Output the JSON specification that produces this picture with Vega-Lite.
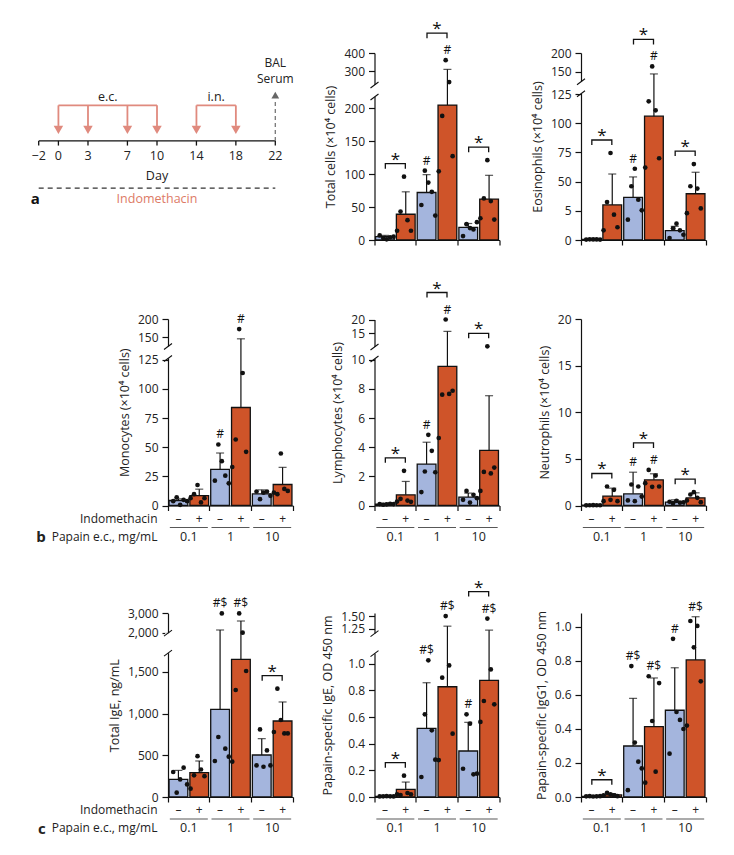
{
"$schema":"https://vega.github.io/schema/vega-lite/v6.json",
"background":"white",
"padding":{"top":20,"left":30,"right":5,"bottom":5},
"config":{
 "font":"Open Sans",
 "view":{"stroke":null},
 "axis":{"labelFont":"Open Sans","titleFont":"Open Sans","labelFontSize":12,"titleFontSize":12.5,"titleFontWeight":"normal","labelColor":"#222","titleColor":"#222","domainColor":"#111","tickColor":"#111","domainWidth":1.2,"tickWidth":1.2,"tickSize":6,"labelPadding":4,"titlePadding":6,"grid":false,"labelOverlap":false},
 "text":{"font":"Open Sans","color":"#222"}
},
"datasets":{
 "days":[{"day":-2},{"day":0},{"day":3},{"day":7},{"day":10},{"day":14},{"day":18},{"day":22}],
 "events":[{"day":0,"route":"e.c."},{"day":3,"route":"e.c."},{"day":7,"route":"e.c."},{"day":10,"route":"e.c."},{"day":14,"route":"i.n."},{"day":18,"route":"i.n."}],
 "bars":[
  {"id":"tc_0.1m","p":"tc","dose":"0.1","trt":"–","mean":5,"sd":2,"mark":"","star":true},
  {"id":"tc_0.1p","p":"tc","dose":"0.1","trt":"+","mean":39,"sd":34,"mark":"","star":true},
  {"id":"tc_1m","p":"tc","dose":"1","trt":"–","mean":72,"sd":27,"mark":"#","star":true},
  {"id":"tc_1p","p":"tc","dose":"1","trt":"+","mean":208,"sd":101,"mark":"#","star":true},
  {"id":"tc_10m","p":"tc","dose":"10","trt":"–","mean":19,"sd":6,"mark":"","star":true},
  {"id":"tc_10p","p":"tc","dose":"10","trt":"+","mean":62,"sd":36,"mark":"","star":true},
  {"id":"eos_0.1m","p":"eos","dose":"0.1","trt":"–","mean":0.5,"sd":0.3,"mark":"","star":true},
  {"id":"eos_0.1p","p":"eos","dose":"0.1","trt":"+","mean":30,"sd":26.5,"mark":"","star":true},
  {"id":"eos_1m","p":"eos","dose":"1","trt":"–","mean":36.5,"sd":17.5,"mark":"#","star":true},
  {"id":"eos_1p","p":"eos","dose":"1","trt":"+","mean":106,"sd":41.5,"mark":"#","star":true},
  {"id":"eos_10m","p":"eos","dose":"10","trt":"–","mean":8,"sd":3.7,"mark":"","star":true},
  {"id":"eos_10p","p":"eos","dose":"10","trt":"+","mean":39.6,"sd":18.4,"mark":"","star":true},
  {"id":"mono_0.1m","p":"mono","dose":"0.1","trt":"–","mean":4.3,"sd":1.4,"mark":"","star":false},
  {"id":"mono_0.1p","p":"mono","dose":"0.1","trt":"+","mean":8.5,"sd":5.5,"mark":"","star":false},
  {"id":"mono_1m","p":"mono","dose":"1","trt":"–","mean":31,"sd":14,"mark":"#","star":false},
  {"id":"mono_1p","p":"mono","dose":"1","trt":"+","mean":84,"sd":64,"mark":"#","star":false},
  {"id":"mono_10m","p":"mono","dose":"10","trt":"–","mean":10,"sd":3.4,"mark":"","star":false},
  {"id":"mono_10p","p":"mono","dose":"10","trt":"+","mean":18,"sd":14.7,"mark":"","star":false},
  {"id":"lym_0.1m","p":"lym","dose":"0.1","trt":"–","mean":0.1,"sd":0.05,"mark":"","star":true},
  {"id":"lym_0.1p","p":"lym","dose":"0.1","trt":"+","mean":0.73,"sd":0.92,"mark":"","star":true},
  {"id":"lym_1m","p":"lym","dose":"1","trt":"–","mean":2.84,"sd":1.5,"mark":"#","star":true},
  {"id":"lym_1p","p":"lym","dose":"1","trt":"+","mean":9.54,"sd":6.06,"mark":"#","star":true},
  {"id":"lym_10m","p":"lym","dose":"10","trt":"–","mean":0.58,"sd":0.27,"mark":"","star":true},
  {"id":"lym_10p","p":"lym","dose":"10","trt":"+","mean":3.78,"sd":3.75,"mark":"","star":true},
  {"id":"neu_0.1m","p":"neu","dose":"0.1","trt":"–","mean":0.05,"sd":0.03,"mark":"","star":true},
  {"id":"neu_0.1p","p":"neu","dose":"0.1","trt":"+","mean":1.0,"sd":0.86,"mark":"","star":true},
  {"id":"neu_1m","p":"neu","dose":"1","trt":"–","mean":1.25,"sd":2.32,"mark":"#","star":true},
  {"id":"neu_1p","p":"neu","dose":"1","trt":"+","mean":2.75,"sd":0.65,"mark":"#","star":true},
  {"id":"neu_10m","p":"neu","dose":"10","trt":"–","mean":0.36,"sd":0.25,"mark":"","star":true},
  {"id":"neu_10p","p":"neu","dose":"10","trt":"+","mean":0.82,"sd":0.54,"mark":"","star":true},
  {"id":"ige_0.1m","p":"ige","dose":"0.1","trt":"–","mean":211,"sd":108,"mark":"","star":false},
  {"id":"ige_0.1p","p":"ige","dose":"0.1","trt":"+","mean":292,"sd":140,"mark":"","star":false},
  {"id":"ige_1m","p":"ige","dose":"1","trt":"–","mean":1052,"sd":1088,"mark":"#$","star":false},
  {"id":"ige_1p","p":"ige","dose":"1","trt":"+","mean":1652,"sd":954,"mark":"#$","star":false},
  {"id":"ige_10m","p":"ige","dose":"10","trt":"–","mean":504,"sd":196,"mark":"","star":true},
  {"id":"ige_10p","p":"ige","dose":"10","trt":"+","mean":912,"sd":228,"mark":"","star":true},
  {"id":"pige_0.1m","p":"pige","dose":"0.1","trt":"–","mean":0.005,"sd":0.003,"mark":"","star":true},
  {"id":"pige_0.1p","p":"pige","dose":"0.1","trt":"+","mean":0.057,"sd":0.055,"mark":"","star":true},
  {"id":"pige_1m","p":"pige","dose":"1","trt":"–","mean":0.515,"sd":0.342,"mark":"#$","star":false},
  {"id":"pige_1p","p":"pige","dose":"1","trt":"+","mean":0.827,"sd":0.473,"mark":"#$","star":false},
  {"id":"pige_10m","p":"pige","dose":"10","trt":"–","mean":0.345,"sd":0.215,"mark":"#","star":true},
  {"id":"pige_10p","p":"pige","dose":"10","trt":"+","mean":0.875,"sd":0.365,"mark":"#$","star":true},
  {"id":"igg1_0.1m","p":"igg1","dose":"0.1","trt":"–","mean":0.004,"sd":0.002,"mark":"","star":true},
  {"id":"igg1_0.1p","p":"igg1","dose":"0.1","trt":"+","mean":0.012,"sd":0.008,"mark":"","star":true},
  {"id":"igg1_1m","p":"igg1","dose":"1","trt":"–","mean":0.30,"sd":0.28,"mark":"#$","star":false},
  {"id":"igg1_1p","p":"igg1","dose":"1","trt":"+","mean":0.414,"sd":0.286,"mark":"#$","star":false},
  {"id":"igg1_10m","p":"igg1","dose":"10","trt":"–","mean":0.51,"sd":0.25,"mark":"#","star":false},
  {"id":"igg1_10p","p":"igg1","dose":"10","trt":"+","mean":0.806,"sd":0.254,"mark":"#$","star":false}
 ],
 "pts":[
  {"id":"tc_0.1m","v":7},{"id":"tc_0.1m","v":3},{"id":"tc_0.1m","v":1},{"id":"tc_0.1m","v":4},{"id":"tc_0.1m","v":5},
  {"id":"tc_0.1p","v":14},{"id":"tc_0.1p","v":43},{"id":"tc_0.1p","v":96},{"id":"tc_0.1p","v":30},{"id":"tc_0.1p","v":14},
  {"id":"tc_1m","v":53},{"id":"tc_1m","v":105},{"id":"tc_1m","v":87},{"id":"tc_1m","v":73},{"id":"tc_1m","v":37},
  {"id":"tc_1p","v":104},{"id":"tc_1p","v":188},{"id":"tc_1p","v":360},{"id":"tc_1p","v":270},{"id":"tc_1p","v":127},
  {"id":"tc_10m","v":6},{"id":"tc_10m","v":24},{"id":"tc_10m","v":18},{"id":"tc_10m","v":16},{"id":"tc_10m","v":27},
  {"id":"tc_10p","v":33},{"id":"tc_10p","v":63},{"id":"tc_10p","v":121},{"id":"tc_10p","v":59},{"id":"tc_10p","v":31},
  {"id":"eos_0.1m","v":0.4},{"id":"eos_0.1m","v":0.6},{"id":"eos_0.1m","v":0.5},{"id":"eos_0.1m","v":0.5},{"id":"eos_0.1m","v":0.4},
  {"id":"eos_0.1p","v":8.3},{"id":"eos_0.1p","v":32.5},{"id":"eos_0.1p","v":74.5},{"id":"eos_0.1p","v":21.7},{"id":"eos_0.1p","v":10.9},
  {"id":"eos_1m","v":17.4},{"id":"eos_1m","v":46},{"id":"eos_1m","v":61},{"id":"eos_1m","v":34.5},{"id":"eos_1m","v":25.4},
  {"id":"eos_1p","v":62},{"id":"eos_1p","v":118.7},{"id":"eos_1p","v":164},{"id":"eos_1p","v":111},{"id":"eos_1p","v":70},
  {"id":"eos_10m","v":1.7},{"id":"eos_10m","v":10},{"id":"eos_10m","v":14},{"id":"eos_10m","v":8.3},{"id":"eos_10m","v":4.5},
  {"id":"eos_10p","v":23},{"id":"eos_10p","v":46},{"id":"eos_10p","v":65},{"id":"eos_10p","v":44},{"id":"eos_10p","v":27},
  {"id":"mono_0.1m","v":3.7},{"id":"mono_0.1m","v":7},{"id":"mono_0.1m","v":0.6},{"id":"mono_0.1m","v":4.9},{"id":"mono_0.1m","v":3.7},
  {"id":"mono_0.1p","v":6.3},{"id":"mono_0.1p","v":9.7},{"id":"mono_0.1p","v":17.6},{"id":"mono_0.1p","v":2.6},{"id":"mono_0.1p","v":6.3},
  {"id":"mono_1m","v":21.3},{"id":"mono_1m","v":52.3},{"id":"mono_1m","v":38},{"id":"mono_1m","v":25.6},{"id":"mono_1m","v":19},
  {"id":"mono_1p","v":33},{"id":"mono_1p","v":56.6},{"id":"mono_1p","v":172},{"id":"mono_1p","v":113.6},{"id":"mono_1p","v":46},
  {"id":"mono_10m","v":12},{"id":"mono_10m","v":5.4},{"id":"mono_10m","v":11},{"id":"mono_10m","v":12},{"id":"mono_10m","v":8.3},
  {"id":"mono_10p","v":11},{"id":"mono_10p","v":9.7},{"id":"mono_10p","v":44.6},{"id":"mono_10p","v":14.2},{"id":"mono_10p","v":12.5},
  {"id":"lym_0.1m","v":0.1},{"id":"lym_0.1m","v":0.05},{"id":"lym_0.1m","v":0.08},{"id":"lym_0.1m","v":0.12},{"id":"lym_0.1m","v":0.1},
  {"id":"lym_0.1p","v":0.27},{"id":"lym_0.1p","v":0.46},{"id":"lym_0.1p","v":2.38},{"id":"lym_0.1p","v":0.34},{"id":"lym_0.1p","v":0.25},
  {"id":"lym_1m","v":0.92},{"id":"lym_1m","v":2.33},{"id":"lym_1m","v":4.85},{"id":"lym_1m","v":3.75},{"id":"lym_1m","v":2.28},
  {"id":"lym_1p","v":4.63},{"id":"lym_1p","v":7.6},{"id":"lym_1p","v":20},{"id":"lym_1p","v":7.65},{"id":"lym_1p","v":7.87},
  {"id":"lym_10m","v":0.39},{"id":"lym_10m","v":1.0},{"id":"lym_10m","v":0.2},{"id":"lym_10m","v":0.73},{"id":"lym_10m","v":0.5},
  {"id":"lym_10p","v":1.0},{"id":"lym_10p","v":2.3},{"id":"lym_10p","v":12.5},{"id":"lym_10p","v":2.2},{"id":"lym_10p","v":2.6},
  {"id":"neu_0.1m","v":0.02},{"id":"neu_0.1m","v":0.03},{"id":"neu_0.1m","v":0.04},{"id":"neu_0.1m","v":0.03},{"id":"neu_0.1m","v":0.03},
  {"id":"neu_0.1p","v":0.46},{"id":"neu_0.1p","v":2.04},{"id":"neu_0.1p","v":0.61},{"id":"neu_0.1p","v":1.68},{"id":"neu_0.1p","v":0.46},
  {"id":"neu_1m","v":0.54},{"id":"neu_1m","v":2.25},{"id":"neu_1m","v":0.46},{"id":"neu_1m","v":2.04},{"id":"neu_1m","v":0.96},
  {"id":"neu_1p","v":2.39},{"id":"neu_1p","v":3.82},{"id":"neu_1p","v":2.0},{"id":"neu_1p","v":3.21},{"id":"neu_1p","v":2.04},
  {"id":"neu_10m","v":0.4},{"id":"neu_10m","v":0.25},{"id":"neu_10m","v":0.5},{"id":"neu_10m","v":0.3},{"id":"neu_10m","v":0.35},
  {"id":"neu_10p","v":0.54},{"id":"neu_10p","v":1.18},{"id":"neu_10p","v":1.43},{"id":"neu_10p","v":0.82},{"id":"neu_10p","v":0.36},
  {"id":"ige_0.1m","v":300},{"id":"ige_0.1m","v":52},{"id":"ige_0.1m","v":211},{"id":"ige_0.1m","v":352},{"id":"ige_0.1m","v":151},
  {"id":"ige_0.1p","v":100},{"id":"ige_0.1p","v":260},{"id":"ige_0.1p","v":490},{"id":"ige_0.1p","v":330},{"id":"ige_0.1p","v":250},
  {"id":"ige_1m","v":432},{"id":"ige_1m","v":720},{"id":"ige_1m","v":3000},{"id":"ige_1m","v":580},{"id":"ige_1m","v":484},
  {"id":"ige_1p","v":424},{"id":"ige_1p","v":1284},{"id":"ige_1p","v":3000},{"id":"ige_1p","v":2000},{"id":"ige_1p","v":1512},
  {"id":"ige_10m","v":379},{"id":"ige_10m","v":811},{"id":"ige_10m","v":363},{"id":"ige_10m","v":559},{"id":"ige_10m","v":379},
  {"id":"ige_10p","v":780},{"id":"ige_10p","v":1300},{"id":"ige_10p","v":924},{"id":"ige_10p","v":763},{"id":"ige_10p","v":763},
  {"id":"pige_0.1m","v":0.004},{"id":"pige_0.1m","v":0.005},{"id":"pige_0.1m","v":0.006},{"id":"pige_0.1m","v":0.005},{"id":"pige_0.1m","v":0.004},
  {"id":"pige_0.1p","v":0.02},{"id":"pige_0.1p","v":0.015},{"id":"pige_0.1p","v":0.16},{"id":"pige_0.1p","v":0.03},{"id":"pige_0.1p","v":0.02},
  {"id":"pige_1m","v":0.15},{"id":"pige_1m","v":0.62},{"id":"pige_1m","v":1.025},{"id":"pige_1m","v":0.5},{"id":"pige_1m","v":0.28},
  {"id":"pige_1p","v":0.277},{"id":"pige_1p","v":0.895},{"id":"pige_1p","v":1.5},{"id":"pige_1p","v":0.987},{"id":"pige_1p","v":0.475},
  {"id":"pige_10m","v":0.212},{"id":"pige_10m","v":0.62},{"id":"pige_10m","v":0.55},{"id":"pige_10m","v":0.17},{"id":"pige_10m","v":0.175},
  {"id":"pige_10p","v":0.563},{"id":"pige_10p","v":0.72},{"id":"pige_10p","v":1.45},{"id":"pige_10p","v":0.957},{"id":"pige_10p","v":0.695},
  {"id":"igg1_0.1m","v":0.004},{"id":"igg1_0.1m","v":0.005},{"id":"igg1_0.1m","v":0.003},{"id":"igg1_0.1m","v":0.004},{"id":"igg1_0.1m","v":0.005},
  {"id":"igg1_0.1p","v":0.01},{"id":"igg1_0.1p","v":0.025},{"id":"igg1_0.1p","v":0.015},{"id":"igg1_0.1p","v":0.01},{"id":"igg1_0.1p","v":0.005},
  {"id":"igg1_1m","v":0.04},{"id":"igg1_1m","v":0.77},{"id":"igg1_1m","v":0.32},{"id":"igg1_1m","v":0.208},{"id":"igg1_1m","v":0.168},
  {"id":"igg1_1p","v":0.084},{"id":"igg1_1p","v":0.71},{"id":"igg1_1p","v":0.447},{"id":"igg1_1p","v":0.149},{"id":"igg1_1p","v":0.67},
  {"id":"igg1_10m","v":0.255},{"id":"igg1_10m","v":0.93},{"id":"igg1_10m","v":0.5},{"id":"igg1_10m","v":0.453},{"id":"igg1_10m","v":0.40},
  {"id":"igg1_10p","v":0.42},{"id":"igg1_10p","v":1.035},{"id":"igg1_10p","v":0.88},{"id":"igg1_10p","v":1.006},{"id":"igg1_10p","v":0.68}
 ]
},
"spacing":33,
"vconcat":[
{"hconcat":[
 {"width":125,"height":187,
  "layer":[
   {"data":{"name":"days"},"mark":{"type":"rule","color":"#111","strokeWidth":1.3},"encoding":{"x":{"aggregate":"min","field":"day","type":"quantitative","scale":{"domain":[-2,22],"range":[-129.3,107.3],"nice":false,"zero":false},"axis":null},"x2":{"aggregate":"max","field":"day"},"y":{"datum":53,"type":"quantitative","scale":{"domain":[0,100],"nice":false,"zero":false},"axis":null}}},
   {"data":{"name":"days"},"mark":{"type":"rule","color":"#111","strokeWidth":1.3},"encoding":{"x":{"field":"day","type":"quantitative","axis":null},"y":{"datum":53,"type":"quantitative","axis":null},"y2":{"datum":50.5}}},
   {"data":{"name":"days"},"mark":{"type":"text","fontSize":12.5,"baseline":"middle","color":"#222"},"encoding":{"x":{"field":"day","type":"quantitative","axis":null},"y":{"datum":45,"type":"quantitative","axis":null},"text":{"field":"day","type":"quantitative","format":"d"}}},
   {"data":{"values":[{"t":"Day"}]},"mark":{"type":"text","fontSize":12.5,"baseline":"middle","color":"#222"},"encoding":{"x":{"datum":10,"type":"quantitative","axis":null},"y":{"datum":34.3,"type":"quantitative","axis":null},"text":{"field":"t"}}},
   {"data":{"name":"days"},"mark":{"type":"rule","color":"#333","strokeWidth":1.2,"strokeDash":[5,4]},"encoding":{"x":{"aggregate":"min","field":"day","type":"quantitative","axis":null},"x2":{"aggregate":"max","field":"day"},"y":{"datum":27.7,"type":"quantitative","axis":null}}},
   {"data":{"values":[{"t":"Indomethacin"}]},"mark":{"type":"text","fontSize":12.5,"baseline":"middle","color":"#DD7A66"},"encoding":{"x":{"datum":10,"type":"quantitative","axis":null},"y":{"datum":21.9,"type":"quantitative","axis":null},"text":{"field":"t"}}},
   {"data":{"values":[{"t":"a"}]},"mark":{"type":"text","fontSize":15,"fontWeight":"bold","baseline":"middle","color":"#111"},"encoding":{"x":{"datum":-2.35,"type":"quantitative","axis":null},"y":{"datum":21.9,"type":"quantitative","axis":null},"text":{"field":"t"}}},
   {"data":{"name":"events"},"mark":{"type":"rule","color":"#E08A7E","strokeWidth":1.8},"encoding":{"x":{"field":"day","type":"quantitative","axis":null},"y":{"datum":72,"type":"quantitative","axis":null},"y2":{"datum":61}}},
   {"data":{"name":"events"},"mark":{"type":"point","shape":"triangle-down","filled":true,"color":"#E08A7E","size":90,"opacity":1},"encoding":{"x":{"field":"day","type":"quantitative","axis":null},"y":{"datum":58.9,"type":"quantitative","axis":null}}},
   {"data":{"name":"events"},"mark":{"type":"rule","color":"#E08A7E","strokeWidth":1.8},"encoding":{"x":{"aggregate":"min","field":"day","type":"quantitative","axis":null},"x2":{"aggregate":"max","field":"day"},"detail":{"field":"route","type":"nominal"},"y":{"datum":72,"type":"quantitative","axis":null}}},
   {"data":{"name":"events"},"mark":{"type":"text","fontSize":12.5,"baseline":"middle","color":"#222"},"encoding":{"x":{"aggregate":"mean","field":"day","type":"quantitative","axis":null},"y":{"datum":76.6,"type":"quantitative","axis":null},"text":{"field":"route","type":"nominal"}}},
   {"data":{"values":[{"day":22}]},"mark":{"type":"rule","color":"#777","strokeWidth":1.3,"strokeDash":[4,3]},"encoding":{"x":{"field":"day","type":"quantitative","axis":null},"y":{"datum":53,"type":"quantitative","axis":null},"y2":{"datum":75}}},
   {"data":{"values":[{"day":22}]},"mark":{"type":"point","shape":"triangle-up","filled":true,"color":"#666","size":60,"opacity":1},"encoding":{"x":{"field":"day","type":"quantitative","axis":null},"y":{"datum":77.5,"type":"quantitative","axis":null}}},
   {"data":{"values":[{"day":22,"t":"BAL"}]},"mark":{"type":"text","fontSize":12,"baseline":"middle","color":"#222"},"encoding":{"x":{"field":"day","type":"quantitative","axis":null},"y":{"datum":94.6,"type":"quantitative","axis":null},"text":{"field":"t"}}},
   {"data":{"values":[{"day":22,"t":"Serum"}]},"mark":{"type":"text","fontSize":12,"baseline":"middle","color":"#222"},"encoding":{"x":{"field":"day","type":"quantitative","axis":null},"y":{"datum":86,"type":"quantitative","axis":null},"text":{"field":"t"}}}
  ]},
 {"width":125,"height":187,"resolve":{"scale":{"xOffset":"independent"}},
  "layer":[
   {"data":{"name":"bars"},"transform":[{"filter":"datum.p=='tc'"}],"mark":{"type":"bar","stroke":"#111","strokeWidth":1.3},"encoding":{"x":{"field":"dose","type":"nominal","sort":["0.1","1","10"],"scale":{"paddingInner":0,"paddingOuter":0},"axis":{"title":null,"labels":false,"tickSize":5,"bandPosition":1,"tickExtra":true}},"xOffset":{"field":"trt","type":"nominal","scale":{"type":"band","domain":["–","+"],"paddingInner":0.1,"paddingOuter":0.05}},"y":{"field":"mean","type":"quantitative","scale":{"domain":[0,200,300,400],"range":[187,55,18,0],"nice":false,"zero":false},"axis":{"title":"Total cells (×10⁴ cells)","values":[0,50,100,150,200,300,400],"tickCount":30,"labelOverlap":false}},"color":{"field":"trt","type":"nominal","scale":{"domain":["–","+"],"range":["#A4B5DD","#CF5429"]},"legend":null}}},
   {"data":{"name":"bars"},"transform":[{"filter":"datum.p=='tc'"},{"calculate":"datum.mean+datum.sd","as":"hi"}],"mark":{"type":"rule","color":"#111","strokeWidth":1.2},"encoding":{"x":{"field":"dose","type":"nominal","sort":["0.1","1","10"]},"xOffset":{"field":"trt","type":"nominal","scale":{"type":"band","domain":["–","+"],"paddingInner":0.1,"paddingOuter":0.05}},"y":{"field":"mean","type":"quantitative"},"y2":{"field":"hi"}}},
   {"data":{"name":"bars"},"transform":[{"filter":"datum.p=='tc'"},{"calculate":"datum.mean+datum.sd","as":"hi"}],"mark":{"type":"tick","orient":"horizontal","size":8,"thickness":1.2,"color":"#111"},"encoding":{"x":{"field":"dose","type":"nominal","sort":["0.1","1","10"]},"xOffset":{"field":"trt","type":"nominal","scale":{"type":"band","domain":["–","+"],"paddingInner":0.1,"paddingOuter":0.05}},"y":{"field":"hi","type":"quantitative"}}},
   {"data":{"name":"pts"},"transform":[{"lookup":"id","from":{"data":{"name":"bars"},"key":"id","fields":["p","dose","trt","mean","sd","mark","star"]}},{"filter":"datum.p=='tc'"},{"window":[{"op":"row_number","as":"rep"}],"groupby":["id"]},{"calculate":"(datum.trt=='+'?5:0)+datum.rep","as":"k"}],"mark":{"type":"circle","color":"#111","size":22,"opacity":1},"encoding":{"x":{"field":"dose","type":"nominal","sort":["0.1","1","10"]},"xOffset":{"field":"k","type":"ordinal","scale":{"type":"band","paddingOuter":1,"paddingInner":0}},"y":{"field":"v","type":"quantitative"}}},
   {"data":{"name":"pts"},"transform":[{"lookup":"id","from":{"data":{"name":"bars"},"key":"id","fields":["p","dose","trt","mean","sd","mark","star"]}},{"filter":"datum.p=='tc'"},{"aggregate":[{"op":"max","field":"v","as":"pmax"}],"groupby":["dose","trt","mean","sd","mark","star"]},{"calculate":"max(datum.pmax, datum.mean + datum.sd)","as":"top"},{"filter":"datum.mark != ''"}],"mark":{"type":"text","fontSize":12,"baseline":"middle","dy":-10,"color":"#111"},"encoding":{"x":{"field":"dose","type":"nominal","sort":["0.1","1","10"]},"xOffset":{"field":"trt","type":"nominal","scale":{"type":"band","domain":["–","+"],"paddingInner":0.1,"paddingOuter":0.05}},"y":{"field":"top","type":"quantitative"},"text":{"field":"mark"}}},
   {"data":{"name":"pts"},"transform":[{"lookup":"id","from":{"data":{"name":"bars"},"key":"id","fields":["p","dose","trt","mean","sd","mark","star"]}},{"filter":"datum.p=='tc'"},{"aggregate":[{"op":"max","field":"v","as":"pmax"}],"groupby":["dose","trt","mean","sd","mark","star"]},{"calculate":"max(datum.pmax, datum.mean + datum.sd)","as":"top"},{"calculate":"datum.mark != '' ? 1 : 0","as":"hm"},{"joinaggregate":[{"op":"max","field":"top","as":"gtop"},{"op":"max","field":"hm","as":"ghm"}],"groupby":["dose"]},{"filter":"datum.star && datum.trt == '+'"}],"mark":{"type":"point","filled":false,"color":"#111","strokeWidth":1.3,"size":400,"opacity":1},"encoding":{"x":{"field":"dose","type":"nominal","sort":["0.1","1","10"]},"y":{"field":"gtop","type":"quantitative"},"shape":{"condition":{"test":"datum.ghm == 1","value":"M -1 -2.2 L -1 -2.7 L 1 -2.7 L 1 -2.2"},"value":"M -1 -0.8 L -1 -1.3 L 1 -1.3 L 1 -0.8"}}},
   {"data":{"name":"pts"},"transform":[{"lookup":"id","from":{"data":{"name":"bars"},"key":"id","fields":["p","dose","trt","mean","sd","mark","star"]}},{"filter":"datum.p=='tc'"},{"aggregate":[{"op":"max","field":"v","as":"pmax"}],"groupby":["dose","trt","mean","sd","mark","star"]},{"calculate":"max(datum.pmax, datum.mean + datum.sd)","as":"top"},{"calculate":"datum.mark != '' ? 1 : 0","as":"hm"},{"joinaggregate":[{"op":"max","field":"top","as":"gtop"},{"op":"max","field":"hm","as":"ghm"}],"groupby":["dose"]},{"filter":"datum.star && datum.trt == '+' && datum.ghm == 1"}],"mark":{"type":"text","text":"*","fontSize":17,"baseline":"alphabetic","dy":-26,"color":"#111"},"encoding":{"x":{"field":"dose","type":"nominal","sort":["0.1","1","10"]},"y":{"field":"gtop","type":"quantitative"}}},
   {"data":{"name":"pts"},"transform":[{"lookup":"id","from":{"data":{"name":"bars"},"key":"id","fields":["p","dose","trt","mean","sd","mark","star"]}},{"filter":"datum.p=='tc'"},{"aggregate":[{"op":"max","field":"v","as":"pmax"}],"groupby":["dose","trt","mean","sd","mark","star"]},{"calculate":"max(datum.pmax, datum.mean + datum.sd)","as":"top"},{"calculate":"datum.mark != '' ? 1 : 0","as":"hm"},{"joinaggregate":[{"op":"max","field":"top","as":"gtop"},{"op":"max","field":"hm","as":"ghm"}],"groupby":["dose"]},{"filter":"datum.star && datum.trt == '+' && datum.ghm == 0"}],"mark":{"type":"text","text":"*","fontSize":17,"baseline":"alphabetic","dy":-12,"color":"#111"},"encoding":{"x":{"field":"dose","type":"nominal","sort":["0.1","1","10"]},"y":{"field":"gtop","type":"quantitative"}}},
   {"data":{"values":[{}]},"mark":{"type":"point","shape":"M -0.75 -1.5 L 0.75 -1.5 L 0.75 1.5 L -0.75 1.5 Z","filled":true,"color":"white","size":64,"opacity":1},"encoding":{"x":{"datum":"0.1","type":"nominal","bandPosition":0},"y":{"datum":246,"type":"quantitative"}}},
   {"data":{"values":[{}]},"mark":{"type":"point","shape":"M -1 -0.75 L 1 -2.25 M -1 2.25 L 1 0.75","filled":false,"color":"#111","strokeWidth":1.1,"size":64,"opacity":1},"encoding":{"x":{"datum":"0.1","type":"nominal","bandPosition":0},"y":{"datum":246,"type":"quantitative"}}}
  ]},
 {"width":125,"height":187,"resolve":{"scale":{"xOffset":"independent"}},
  "layer":[
   {"data":{"name":"bars"},"transform":[{"filter":"datum.p=='eos'"}],"mark":{"type":"bar","stroke":"#111","strokeWidth":1.3},"encoding":{"x":{"field":"dose","type":"nominal","sort":["0.1","1","10"],"scale":{"paddingInner":0,"paddingOuter":0},"axis":{"title":null,"labels":false,"tickSize":5,"bandPosition":1,"tickExtra":true}},"xOffset":{"field":"trt","type":"nominal","scale":{"type":"band","domain":["–","+"],"paddingInner":0.1,"paddingOuter":0.05}},"y":{"field":"mean","type":"quantitative","scale":{"domain":[0,125,150,200],"range":[187,41,18.7,0],"nice":false,"zero":false},"axis":{"title":"Eosinophils (×10⁴ cells)","values":[0,25,50,75,100,125,150,200],"tickCount":30,"labelOverlap":false,"labelExpr":"datum.value == 25 ? '5' : datum.label"}},"color":{"field":"trt","type":"nominal","scale":{"domain":["–","+"],"range":["#A4B5DD","#CF5429"]},"legend":null}}},
   {"data":{"name":"bars"},"transform":[{"filter":"datum.p=='eos'"},{"calculate":"datum.mean+datum.sd","as":"hi"}],"mark":{"type":"rule","color":"#111","strokeWidth":1.2},"encoding":{"x":{"field":"dose","type":"nominal","sort":["0.1","1","10"]},"xOffset":{"field":"trt","type":"nominal","scale":{"type":"band","domain":["–","+"],"paddingInner":0.1,"paddingOuter":0.05}},"y":{"field":"mean","type":"quantitative"},"y2":{"field":"hi"}}},
   {"data":{"name":"bars"},"transform":[{"filter":"datum.p=='eos'"},{"calculate":"datum.mean+datum.sd","as":"hi"}],"mark":{"type":"tick","orient":"horizontal","size":8,"thickness":1.2,"color":"#111"},"encoding":{"x":{"field":"dose","type":"nominal","sort":["0.1","1","10"]},"xOffset":{"field":"trt","type":"nominal","scale":{"type":"band","domain":["–","+"],"paddingInner":0.1,"paddingOuter":0.05}},"y":{"field":"hi","type":"quantitative"}}},
   {"data":{"name":"pts"},"transform":[{"lookup":"id","from":{"data":{"name":"bars"},"key":"id","fields":["p","dose","trt","mean","sd","mark","star"]}},{"filter":"datum.p=='eos'"},{"window":[{"op":"row_number","as":"rep"}],"groupby":["id"]},{"calculate":"(datum.trt=='+'?5:0)+datum.rep","as":"k"}],"mark":{"type":"circle","color":"#111","size":22,"opacity":1},"encoding":{"x":{"field":"dose","type":"nominal","sort":["0.1","1","10"]},"xOffset":{"field":"k","type":"ordinal","scale":{"type":"band","paddingOuter":1,"paddingInner":0}},"y":{"field":"v","type":"quantitative"}}},
   {"data":{"name":"pts"},"transform":[{"lookup":"id","from":{"data":{"name":"bars"},"key":"id","fields":["p","dose","trt","mean","sd","mark","star"]}},{"filter":"datum.p=='eos'"},{"aggregate":[{"op":"max","field":"v","as":"pmax"}],"groupby":["dose","trt","mean","sd","mark","star"]},{"calculate":"max(datum.pmax, datum.mean + datum.sd)","as":"top"},{"filter":"datum.mark != ''"}],"mark":{"type":"text","fontSize":12,"baseline":"middle","dy":-10,"color":"#111"},"encoding":{"x":{"field":"dose","type":"nominal","sort":["0.1","1","10"]},"xOffset":{"field":"trt","type":"nominal","scale":{"type":"band","domain":["–","+"],"paddingInner":0.1,"paddingOuter":0.05}},"y":{"field":"top","type":"quantitative"},"text":{"field":"mark"}}},
   {"data":{"name":"pts"},"transform":[{"lookup":"id","from":{"data":{"name":"bars"},"key":"id","fields":["p","dose","trt","mean","sd","mark","star"]}},{"filter":"datum.p=='eos'"},{"aggregate":[{"op":"max","field":"v","as":"pmax"}],"groupby":["dose","trt","mean","sd","mark","star"]},{"calculate":"max(datum.pmax, datum.mean + datum.sd)","as":"top"},{"calculate":"datum.mark != '' ? 1 : 0","as":"hm"},{"joinaggregate":[{"op":"max","field":"top","as":"gtop"},{"op":"max","field":"hm","as":"ghm"}],"groupby":["dose"]},{"filter":"datum.star && datum.trt == '+'"}],"mark":{"type":"point","filled":false,"color":"#111","strokeWidth":1.3,"size":400,"opacity":1},"encoding":{"x":{"field":"dose","type":"nominal","sort":["0.1","1","10"]},"y":{"field":"gtop","type":"quantitative"},"shape":{"condition":{"test":"datum.ghm == 1","value":"M -1 -2.2 L -1 -2.7 L 1 -2.7 L 1 -2.2"},"value":"M -1 -0.8 L -1 -1.3 L 1 -1.3 L 1 -0.8"}}},
   {"data":{"name":"pts"},"transform":[{"lookup":"id","from":{"data":{"name":"bars"},"key":"id","fields":["p","dose","trt","mean","sd","mark","star"]}},{"filter":"datum.p=='eos'"},{"aggregate":[{"op":"max","field":"v","as":"pmax"}],"groupby":["dose","trt","mean","sd","mark","star"]},{"calculate":"max(datum.pmax, datum.mean + datum.sd)","as":"top"},{"calculate":"datum.mark != '' ? 1 : 0","as":"hm"},{"joinaggregate":[{"op":"max","field":"top","as":"gtop"},{"op":"max","field":"hm","as":"ghm"}],"groupby":["dose"]},{"filter":"datum.star && datum.trt == '+' && datum.ghm == 1"}],"mark":{"type":"text","text":"*","fontSize":17,"baseline":"alphabetic","dy":-26,"color":"#111"},"encoding":{"x":{"field":"dose","type":"nominal","sort":["0.1","1","10"]},"y":{"field":"gtop","type":"quantitative"}}},
   {"data":{"name":"pts"},"transform":[{"lookup":"id","from":{"data":{"name":"bars"},"key":"id","fields":["p","dose","trt","mean","sd","mark","star"]}},{"filter":"datum.p=='eos'"},{"aggregate":[{"op":"max","field":"v","as":"pmax"}],"groupby":["dose","trt","mean","sd","mark","star"]},{"calculate":"max(datum.pmax, datum.mean + datum.sd)","as":"top"},{"calculate":"datum.mark != '' ? 1 : 0","as":"hm"},{"joinaggregate":[{"op":"max","field":"top","as":"gtop"},{"op":"max","field":"hm","as":"ghm"}],"groupby":["dose"]},{"filter":"datum.star && datum.trt == '+' && datum.ghm == 0"}],"mark":{"type":"text","text":"*","fontSize":17,"baseline":"alphabetic","dy":-12,"color":"#111"},"encoding":{"x":{"field":"dose","type":"nominal","sort":["0.1","1","10"]},"y":{"field":"gtop","type":"quantitative"}}},
   {"data":{"values":[{}]},"mark":{"type":"point","shape":"M -0.75 -1.5 L 0.75 -1.5 L 0.75 1.5 L -0.75 1.5 Z","filled":true,"color":"white","size":64,"opacity":1},"encoding":{"x":{"datum":"0.1","type":"nominal","bandPosition":0},"y":{"datum":132,"type":"quantitative"}}},
   {"data":{"values":[{}]},"mark":{"type":"point","shape":"M -1 -0.75 L 1 -2.25 M -1 2.25 L 1 0.75","filled":false,"color":"#111","strokeWidth":1.1,"size":64,"opacity":1},"encoding":{"x":{"datum":"0.1","type":"nominal","bandPosition":0},"y":{"datum":132,"type":"quantitative"}}}
  ]}
 ],"spacing":81.5,"bounds":"flush"},
{"hconcat":[
 {"width":125,"height":186.5,"resolve":{"scale":{"y":"independent","xOffset":"independent"},"axis":{"y":"independent"}},
  "layer":[
   {"resolve":{"scale":{"xOffset":"independent"}},"layer":[
    {"data":{"name":"bars"},"transform":[{"filter":"datum.p=='mono'"}],"mark":{"type":"bar","stroke":"#111","strokeWidth":1.3},"encoding":{"x":{"field":"dose","type":"nominal","sort":["0.1","1","10"],"scale":{"paddingInner":0,"paddingOuter":0},"axis":{"title":null,"labels":false,"tickSize":5,"bandPosition":1,"tickExtra":true}},"xOffset":{"field":"trt","type":"nominal","scale":{"type":"band","domain":["–","+"],"paddingInner":0.1,"paddingOuter":0.05}},"y":{"field":"mean","type":"quantitative","scale":{"domain":[0,125,150,200],"range":[186.5,40.7,18,0],"nice":false,"zero":false},"axis":{"title":"Monocytes (×10⁴ cells)","values":[0,25,50,75,100,125,150,200],"tickCount":30,"labelOverlap":false}},"color":{"field":"trt","type":"nominal","scale":{"domain":["–","+"],"range":["#A4B5DD","#CF5429"]},"legend":null}}},
    {"data":{"name":"bars"},"transform":[{"filter":"datum.p=='mono'"},{"calculate":"datum.mean+datum.sd","as":"hi"}],"mark":{"type":"rule","color":"#111","strokeWidth":1.2},"encoding":{"x":{"field":"dose","type":"nominal","sort":["0.1","1","10"]},"xOffset":{"field":"trt","type":"nominal","scale":{"type":"band","domain":["–","+"],"paddingInner":0.1,"paddingOuter":0.05}},"y":{"field":"mean","type":"quantitative"},"y2":{"field":"hi"}}},
    {"data":{"name":"bars"},"transform":[{"filter":"datum.p=='mono'"},{"calculate":"datum.mean+datum.sd","as":"hi"}],"mark":{"type":"tick","orient":"horizontal","size":8,"thickness":1.2,"color":"#111"},"encoding":{"x":{"field":"dose","type":"nominal","sort":["0.1","1","10"]},"xOffset":{"field":"trt","type":"nominal","scale":{"type":"band","domain":["–","+"],"paddingInner":0.1,"paddingOuter":0.05}},"y":{"field":"hi","type":"quantitative"}}},
    {"data":{"name":"pts"},"transform":[{"lookup":"id","from":{"data":{"name":"bars"},"key":"id","fields":["p","dose","trt","mean","sd","mark","star"]}},{"filter":"datum.p=='mono'"},{"window":[{"op":"row_number","as":"rep"}],"groupby":["id"]},{"calculate":"(datum.trt=='+'?5:0)+datum.rep","as":"k"}],"mark":{"type":"circle","color":"#111","size":22,"opacity":1},"encoding":{"x":{"field":"dose","type":"nominal","sort":["0.1","1","10"]},"xOffset":{"field":"k","type":"ordinal","scale":{"type":"band","paddingOuter":1,"paddingInner":0}},"y":{"field":"v","type":"quantitative"}}},
    {"data":{"name":"pts"},"transform":[{"lookup":"id","from":{"data":{"name":"bars"},"key":"id","fields":["p","dose","trt","mean","sd","mark","star"]}},{"filter":"datum.p=='mono'"},{"aggregate":[{"op":"max","field":"v","as":"pmax"}],"groupby":["dose","trt","mean","sd","mark","star"]},{"calculate":"max(datum.pmax, datum.mean + datum.sd)","as":"top"},{"filter":"datum.mark != ''"}],"mark":{"type":"text","fontSize":12,"baseline":"middle","dy":-10,"color":"#111"},"encoding":{"x":{"field":"dose","type":"nominal","sort":["0.1","1","10"]},"xOffset":{"field":"trt","type":"nominal","scale":{"type":"band","domain":["–","+"],"paddingInner":0.1,"paddingOuter":0.05}},"y":{"field":"top","type":"quantitative"},"text":{"field":"mark"}}},
    {"data":{"values":[{}]},"mark":{"type":"point","shape":"M -0.75 -1.5 L 0.75 -1.5 L 0.75 1.5 L -0.75 1.5 Z","filled":true,"color":"white","size":64,"opacity":1},"encoding":{"x":{"datum":"0.1","type":"nominal","bandPosition":0},"y":{"datum":133,"type":"quantitative"}}},
    {"data":{"values":[{}]},"mark":{"type":"point","shape":"M -1 -0.75 L 1 -2.25 M -1 2.25 L 1 0.75","filled":false,"color":"#111","strokeWidth":1.1,"size":64,"opacity":1},"encoding":{"x":{"datum":"0.1","type":"nominal","bandPosition":0},"y":{"datum":133,"type":"quantitative"}}}
   ]},
   {"data":{"name":"bars"},"transform":[{"filter":"datum.p=='mono'"}],"layer":[
    {"mark":{"type":"text","fontSize":12,"baseline":"middle","color":"#222"},"encoding":{"x":{"field":"dose","type":"nominal","sort":["0.1","1","10"]},"xOffset":{"field":"trt","type":"nominal","scale":{"type":"band","domain":["–","+"],"paddingInner":0.1,"paddingOuter":0.05}},"y":{"datum":"Indomethacin","type":"nominal","scale":{"type":"band","domain":["Indomethacin","Papain e.c., mg/mL"],"range":[190.5,226.5],"paddingInner":0,"paddingOuter":0},"axis":{"orient":"left","title":"b","titleAngle":0,"titleFontWeight":"bold","titleFontSize":15,"titleAlign":"right","titleBaseline":"middle","titleY":217.5,"titlePadding":6,"domain":false,"ticks":false,"labelPadding":11,"labelFontSize":12}},"text":{"field":"trt"}}},
    {"transform":[{"filter":"datum.trt=='+'"}],"mark":{"type":"tick","orient":"horizontal","size":38,"thickness":1,"color":"#111"},"encoding":{"x":{"field":"dose","type":"nominal","sort":["0.1","1","10"]},"y":{"datum":"Papain e.c., mg/mL","type":"nominal","bandPosition":0}}},
    {"transform":[{"filter":"datum.trt=='+'"}],"mark":{"type":"text","fontSize":12.5,"baseline":"middle","color":"#222"},"encoding":{"x":{"field":"dose","type":"nominal","sort":["0.1","1","10"]},"y":{"datum":"Papain e.c., mg/mL","type":"nominal"},"text":{"field":"dose"}}}
   ]}
  ]},
 {"width":125,"height":186.5,"resolve":{"scale":{"y":"independent","xOffset":"independent"},"axis":{"y":"independent"}},
  "layer":[
   {"resolve":{"scale":{"xOffset":"independent"}},"layer":[
    {"data":{"name":"bars"},"transform":[{"filter":"datum.p=='lym'"}],"mark":{"type":"bar","stroke":"#111","strokeWidth":1.3},"encoding":{"x":{"field":"dose","type":"nominal","sort":["0.1","1","10"],"scale":{"paddingInner":0,"paddingOuter":0},"axis":{"title":null,"labels":false,"tickSize":5,"bandPosition":1,"tickExtra":true}},"xOffset":{"field":"trt","type":"nominal","scale":{"type":"band","domain":["–","+"],"paddingInner":0.1,"paddingOuter":0.05}},"y":{"field":"mean","type":"quantitative","scale":{"domain":[0,10,15,20],"range":[186.5,40.7,14,0.5],"nice":false,"zero":false},"axis":{"title":"Lymphocytes (×10⁴ cells)","values":[0,2,4,6,8,10,15,20],"tickCount":30,"labelOverlap":false,"labelExpr":"format(datum.value, 'd')"}},"color":{"field":"trt","type":"nominal","scale":{"domain":["–","+"],"range":["#A4B5DD","#CF5429"]},"legend":null}}},
    {"data":{"name":"bars"},"transform":[{"filter":"datum.p=='lym'"},{"calculate":"datum.mean+datum.sd","as":"hi"}],"mark":{"type":"rule","color":"#111","strokeWidth":1.2},"encoding":{"x":{"field":"dose","type":"nominal","sort":["0.1","1","10"]},"xOffset":{"field":"trt","type":"nominal","scale":{"type":"band","domain":["–","+"],"paddingInner":0.1,"paddingOuter":0.05}},"y":{"field":"mean","type":"quantitative"},"y2":{"field":"hi"}}},
    {"data":{"name":"bars"},"transform":[{"filter":"datum.p=='lym'"},{"calculate":"datum.mean+datum.sd","as":"hi"}],"mark":{"type":"tick","orient":"horizontal","size":8,"thickness":1.2,"color":"#111"},"encoding":{"x":{"field":"dose","type":"nominal","sort":["0.1","1","10"]},"xOffset":{"field":"trt","type":"nominal","scale":{"type":"band","domain":["–","+"],"paddingInner":0.1,"paddingOuter":0.05}},"y":{"field":"hi","type":"quantitative"}}},
    {"data":{"name":"pts"},"transform":[{"lookup":"id","from":{"data":{"name":"bars"},"key":"id","fields":["p","dose","trt","mean","sd","mark","star"]}},{"filter":"datum.p=='lym'"},{"window":[{"op":"row_number","as":"rep"}],"groupby":["id"]},{"calculate":"(datum.trt=='+'?5:0)+datum.rep","as":"k"}],"mark":{"type":"circle","color":"#111","size":22,"opacity":1},"encoding":{"x":{"field":"dose","type":"nominal","sort":["0.1","1","10"]},"xOffset":{"field":"k","type":"ordinal","scale":{"type":"band","paddingOuter":1,"paddingInner":0}},"y":{"field":"v","type":"quantitative"}}},
    {"data":{"name":"pts"},"transform":[{"lookup":"id","from":{"data":{"name":"bars"},"key":"id","fields":["p","dose","trt","mean","sd","mark","star"]}},{"filter":"datum.p=='lym'"},{"aggregate":[{"op":"max","field":"v","as":"pmax"}],"groupby":["dose","trt","mean","sd","mark","star"]},{"calculate":"max(datum.pmax, datum.mean + datum.sd)","as":"top"},{"filter":"datum.mark != ''"}],"mark":{"type":"text","fontSize":12,"baseline":"middle","dy":-10,"color":"#111"},"encoding":{"x":{"field":"dose","type":"nominal","sort":["0.1","1","10"]},"xOffset":{"field":"trt","type":"nominal","scale":{"type":"band","domain":["–","+"],"paddingInner":0.1,"paddingOuter":0.05}},"y":{"field":"top","type":"quantitative"},"text":{"field":"mark"}}},
    {"data":{"name":"pts"},"transform":[{"lookup":"id","from":{"data":{"name":"bars"},"key":"id","fields":["p","dose","trt","mean","sd","mark","star"]}},{"filter":"datum.p=='lym'"},{"aggregate":[{"op":"max","field":"v","as":"pmax"}],"groupby":["dose","trt","mean","sd","mark","star"]},{"calculate":"max(datum.pmax, datum.mean + datum.sd)","as":"top"},{"calculate":"datum.mark != '' ? 1 : 0","as":"hm"},{"joinaggregate":[{"op":"max","field":"top","as":"gtop"},{"op":"max","field":"hm","as":"ghm"}],"groupby":["dose"]},{"filter":"datum.star && datum.trt == '+'"}],"mark":{"type":"point","filled":false,"color":"#111","strokeWidth":1.3,"size":400,"opacity":1},"encoding":{"x":{"field":"dose","type":"nominal","sort":["0.1","1","10"]},"y":{"field":"gtop","type":"quantitative"},"shape":{"condition":{"test":"datum.ghm == 1","value":"M -1 -2.2 L -1 -2.7 L 1 -2.7 L 1 -2.2"},"value":"M -1 -0.8 L -1 -1.3 L 1 -1.3 L 1 -0.8"}}},
    {"data":{"name":"pts"},"transform":[{"lookup":"id","from":{"data":{"name":"bars"},"key":"id","fields":["p","dose","trt","mean","sd","mark","star"]}},{"filter":"datum.p=='lym'"},{"aggregate":[{"op":"max","field":"v","as":"pmax"}],"groupby":["dose","trt","mean","sd","mark","star"]},{"calculate":"max(datum.pmax, datum.mean + datum.sd)","as":"top"},{"calculate":"datum.mark != '' ? 1 : 0","as":"hm"},{"joinaggregate":[{"op":"max","field":"top","as":"gtop"},{"op":"max","field":"hm","as":"ghm"}],"groupby":["dose"]},{"filter":"datum.star && datum.trt == '+' && datum.ghm == 1"}],"mark":{"type":"text","text":"*","fontSize":17,"baseline":"alphabetic","dy":-26,"color":"#111"},"encoding":{"x":{"field":"dose","type":"nominal","sort":["0.1","1","10"]},"y":{"field":"gtop","type":"quantitative"}}},
    {"data":{"name":"pts"},"transform":[{"lookup":"id","from":{"data":{"name":"bars"},"key":"id","fields":["p","dose","trt","mean","sd","mark","star"]}},{"filter":"datum.p=='lym'"},{"aggregate":[{"op":"max","field":"v","as":"pmax"}],"groupby":["dose","trt","mean","sd","mark","star"]},{"calculate":"max(datum.pmax, datum.mean + datum.sd)","as":"top"},{"calculate":"datum.mark != '' ? 1 : 0","as":"hm"},{"joinaggregate":[{"op":"max","field":"top","as":"gtop"},{"op":"max","field":"hm","as":"ghm"}],"groupby":["dose"]},{"filter":"datum.star && datum.trt == '+' && datum.ghm == 0"}],"mark":{"type":"text","text":"*","fontSize":17,"baseline":"alphabetic","dy":-12,"color":"#111"},"encoding":{"x":{"field":"dose","type":"nominal","sort":["0.1","1","10"]},"y":{"field":"gtop","type":"quantitative"}}},
    {"data":{"values":[{}]},"mark":{"type":"point","shape":"M -0.75 -1.5 L 0.75 -1.5 L 0.75 1.5 L -0.75 1.5 Z","filled":true,"color":"white","size":64,"opacity":1},"encoding":{"x":{"datum":"0.1","type":"nominal","bandPosition":0},"y":{"datum":11.25,"type":"quantitative"}}},
    {"data":{"values":[{}]},"mark":{"type":"point","shape":"M -1 -0.75 L 1 -2.25 M -1 2.25 L 1 0.75","filled":false,"color":"#111","strokeWidth":1.1,"size":64,"opacity":1},"encoding":{"x":{"datum":"0.1","type":"nominal","bandPosition":0},"y":{"datum":11.25,"type":"quantitative"}}}
   ]},
   {"data":{"name":"bars"},"transform":[{"filter":"datum.p=='lym'"}],"layer":[
    {"mark":{"type":"text","fontSize":12,"baseline":"middle","color":"#222"},"encoding":{"x":{"field":"dose","type":"nominal","sort":["0.1","1","10"]},"xOffset":{"field":"trt","type":"nominal","scale":{"type":"band","domain":["–","+"],"paddingInner":0.1,"paddingOuter":0.05}},"y":{"datum":"Indomethacin","type":"nominal","scale":{"type":"band","domain":["Indomethacin","Papain e.c., mg/mL"],"range":[190.5,226.5],"paddingInner":0,"paddingOuter":0},"axis":null},"text":{"field":"trt"}}},
    {"transform":[{"filter":"datum.trt=='+'"}],"mark":{"type":"tick","orient":"horizontal","size":38,"thickness":1,"color":"#111"},"encoding":{"x":{"field":"dose","type":"nominal","sort":["0.1","1","10"]},"y":{"datum":"Papain e.c., mg/mL","type":"nominal","bandPosition":0}}},
    {"transform":[{"filter":"datum.trt=='+'"}],"mark":{"type":"text","fontSize":12.5,"baseline":"middle","color":"#222"},"encoding":{"x":{"field":"dose","type":"nominal","sort":["0.1","1","10"]},"y":{"datum":"Papain e.c., mg/mL","type":"nominal"},"text":{"field":"dose"}}}
   ]}
  ]},
 {"width":125,"height":186.5,"resolve":{"scale":{"y":"independent","xOffset":"independent"},"axis":{"y":"independent"}},
  "layer":[
   {"resolve":{"scale":{"xOffset":"independent"}},"layer":[
    {"data":{"name":"bars"},"transform":[{"filter":"datum.p=='neu'"}],"mark":{"type":"bar","stroke":"#111","strokeWidth":1.3},"encoding":{"x":{"field":"dose","type":"nominal","sort":["0.1","1","10"],"scale":{"paddingInner":0,"paddingOuter":0},"axis":{"title":null,"labels":false,"tickSize":5,"bandPosition":1,"tickExtra":true}},"xOffset":{"field":"trt","type":"nominal","scale":{"type":"band","domain":["–","+"],"paddingInner":0.1,"paddingOuter":0.05}},"y":{"field":"mean","type":"quantitative","scale":{"domain":[0,20],"nice":false,"zero":false},"axis":{"title":"Neutrophils (×10⁴ cells)","values":[0,5,10,15,20],"tickCount":30,"labelOverlap":false,"labelExpr":"format(datum.value, 'd')"}},"color":{"field":"trt","type":"nominal","scale":{"domain":["–","+"],"range":["#A4B5DD","#CF5429"]},"legend":null}}},
    {"data":{"name":"bars"},"transform":[{"filter":"datum.p=='neu'"},{"calculate":"datum.mean+datum.sd","as":"hi"}],"mark":{"type":"rule","color":"#111","strokeWidth":1.2},"encoding":{"x":{"field":"dose","type":"nominal","sort":["0.1","1","10"]},"xOffset":{"field":"trt","type":"nominal","scale":{"type":"band","domain":["–","+"],"paddingInner":0.1,"paddingOuter":0.05}},"y":{"field":"mean","type":"quantitative"},"y2":{"field":"hi"}}},
    {"data":{"name":"bars"},"transform":[{"filter":"datum.p=='neu'"},{"calculate":"datum.mean+datum.sd","as":"hi"}],"mark":{"type":"tick","orient":"horizontal","size":8,"thickness":1.2,"color":"#111"},"encoding":{"x":{"field":"dose","type":"nominal","sort":["0.1","1","10"]},"xOffset":{"field":"trt","type":"nominal","scale":{"type":"band","domain":["–","+"],"paddingInner":0.1,"paddingOuter":0.05}},"y":{"field":"hi","type":"quantitative"}}},
    {"data":{"name":"pts"},"transform":[{"lookup":"id","from":{"data":{"name":"bars"},"key":"id","fields":["p","dose","trt","mean","sd","mark","star"]}},{"filter":"datum.p=='neu'"},{"window":[{"op":"row_number","as":"rep"}],"groupby":["id"]},{"calculate":"(datum.trt=='+'?5:0)+datum.rep","as":"k"}],"mark":{"type":"circle","color":"#111","size":22,"opacity":1},"encoding":{"x":{"field":"dose","type":"nominal","sort":["0.1","1","10"]},"xOffset":{"field":"k","type":"ordinal","scale":{"type":"band","paddingOuter":1,"paddingInner":0}},"y":{"field":"v","type":"quantitative"}}},
    {"data":{"name":"pts"},"transform":[{"lookup":"id","from":{"data":{"name":"bars"},"key":"id","fields":["p","dose","trt","mean","sd","mark","star"]}},{"filter":"datum.p=='neu'"},{"aggregate":[{"op":"max","field":"v","as":"pmax"}],"groupby":["dose","trt","mean","sd","mark","star"]},{"calculate":"max(datum.pmax, datum.mean + datum.sd)","as":"top"},{"filter":"datum.mark != ''"}],"mark":{"type":"text","fontSize":12,"baseline":"middle","dy":-10,"color":"#111"},"encoding":{"x":{"field":"dose","type":"nominal","sort":["0.1","1","10"]},"xOffset":{"field":"trt","type":"nominal","scale":{"type":"band","domain":["–","+"],"paddingInner":0.1,"paddingOuter":0.05}},"y":{"field":"top","type":"quantitative"},"text":{"field":"mark"}}},
    {"data":{"name":"pts"},"transform":[{"lookup":"id","from":{"data":{"name":"bars"},"key":"id","fields":["p","dose","trt","mean","sd","mark","star"]}},{"filter":"datum.p=='neu'"},{"aggregate":[{"op":"max","field":"v","as":"pmax"}],"groupby":["dose","trt","mean","sd","mark","star"]},{"calculate":"max(datum.pmax, datum.mean + datum.sd)","as":"top"},{"calculate":"datum.mark != '' ? 1 : 0","as":"hm"},{"joinaggregate":[{"op":"max","field":"top","as":"gtop"},{"op":"max","field":"hm","as":"ghm"}],"groupby":["dose"]},{"filter":"datum.star && datum.trt == '+'"}],"mark":{"type":"point","filled":false,"color":"#111","strokeWidth":1.3,"size":400,"opacity":1},"encoding":{"x":{"field":"dose","type":"nominal","sort":["0.1","1","10"]},"y":{"field":"gtop","type":"quantitative"},"shape":{"condition":{"test":"datum.ghm == 1","value":"M -1 -2.2 L -1 -2.7 L 1 -2.7 L 1 -2.2"},"value":"M -1 -0.8 L -1 -1.3 L 1 -1.3 L 1 -0.8"}}},
    {"data":{"name":"pts"},"transform":[{"lookup":"id","from":{"data":{"name":"bars"},"key":"id","fields":["p","dose","trt","mean","sd","mark","star"]}},{"filter":"datum.p=='neu'"},{"aggregate":[{"op":"max","field":"v","as":"pmax"}],"groupby":["dose","trt","mean","sd","mark","star"]},{"calculate":"max(datum.pmax, datum.mean + datum.sd)","as":"top"},{"calculate":"datum.mark != '' ? 1 : 0","as":"hm"},{"joinaggregate":[{"op":"max","field":"top","as":"gtop"},{"op":"max","field":"hm","as":"ghm"}],"groupby":["dose"]},{"filter":"datum.star && datum.trt == '+' && datum.ghm == 1"}],"mark":{"type":"text","text":"*","fontSize":17,"baseline":"alphabetic","dy":-26,"color":"#111"},"encoding":{"x":{"field":"dose","type":"nominal","sort":["0.1","1","10"]},"y":{"field":"gtop","type":"quantitative"}}},
    {"data":{"name":"pts"},"transform":[{"lookup":"id","from":{"data":{"name":"bars"},"key":"id","fields":["p","dose","trt","mean","sd","mark","star"]}},{"filter":"datum.p=='neu'"},{"aggregate":[{"op":"max","field":"v","as":"pmax"}],"groupby":["dose","trt","mean","sd","mark","star"]},{"calculate":"max(datum.pmax, datum.mean + datum.sd)","as":"top"},{"calculate":"datum.mark != '' ? 1 : 0","as":"hm"},{"joinaggregate":[{"op":"max","field":"top","as":"gtop"},{"op":"max","field":"hm","as":"ghm"}],"groupby":["dose"]},{"filter":"datum.star && datum.trt == '+' && datum.ghm == 0"}],"mark":{"type":"text","text":"*","fontSize":17,"baseline":"alphabetic","dy":-12,"color":"#111"},"encoding":{"x":{"field":"dose","type":"nominal","sort":["0.1","1","10"]},"y":{"field":"gtop","type":"quantitative"}}}
   ]},
   {"data":{"name":"bars"},"transform":[{"filter":"datum.p=='neu'"}],"layer":[
    {"mark":{"type":"text","fontSize":12,"baseline":"middle","color":"#222"},"encoding":{"x":{"field":"dose","type":"nominal","sort":["0.1","1","10"]},"xOffset":{"field":"trt","type":"nominal","scale":{"type":"band","domain":["–","+"],"paddingInner":0.1,"paddingOuter":0.05}},"y":{"datum":"Indomethacin","type":"nominal","scale":{"type":"band","domain":["Indomethacin","Papain e.c., mg/mL"],"range":[190.5,226.5],"paddingInner":0,"paddingOuter":0},"axis":null},"text":{"field":"trt"}}},
    {"transform":[{"filter":"datum.trt=='+'"}],"mark":{"type":"tick","orient":"horizontal","size":38,"thickness":1,"color":"#111"},"encoding":{"x":{"field":"dose","type":"nominal","sort":["0.1","1","10"]},"y":{"datum":"Papain e.c., mg/mL","type":"nominal","bandPosition":0}}},
    {"transform":[{"filter":"datum.trt=='+'"}],"mark":{"type":"text","fontSize":12.5,"baseline":"middle","color":"#222"},"encoding":{"x":{"field":"dose","type":"nominal","sort":["0.1","1","10"]},"y":{"datum":"Papain e.c., mg/mL","type":"nominal"},"text":{"field":"dose"}}}
   ]}
  ]}
 ],"spacing":81.5,"bounds":"flush"},
{"hconcat":[
 {"width":125,"height":184,"resolve":{"scale":{"y":"independent","xOffset":"independent"},"axis":{"y":"independent"}},
  "layer":[
   {"resolve":{"scale":{"xOffset":"independent"}},"layer":[
    {"data":{"name":"bars"},"transform":[{"filter":"datum.p=='ige'"}],"mark":{"type":"bar","stroke":"#111","strokeWidth":1.3},"encoding":{"x":{"field":"dose","type":"nominal","sort":["0.1","1","10"],"scale":{"paddingInner":0,"paddingOuter":0},"axis":{"title":null,"labels":false,"tickSize":5,"bandPosition":1,"tickExtra":true}},"xOffset":{"field":"trt","type":"nominal","scale":{"type":"band","domain":["–","+"],"paddingInner":0.1,"paddingOuter":0.05}},"y":{"field":"mean","type":"quantitative","scale":{"domain":[0,1700,2000,3000],"range":[184,42.3,19.7,0.4],"nice":false,"zero":false},"axis":{"title":"Total IgE, ng/mL","values":[0,500,1000,1500,2000,3000],"tickCount":30,"labelOverlap":false,"labelExpr":"format(datum.value, ',')"}},"color":{"field":"trt","type":"nominal","scale":{"domain":["–","+"],"range":["#A4B5DD","#CF5429"]},"legend":null}}},
    {"data":{"name":"bars"},"transform":[{"filter":"datum.p=='ige'"},{"calculate":"datum.mean+datum.sd","as":"hi"}],"mark":{"type":"rule","color":"#111","strokeWidth":1.2},"encoding":{"x":{"field":"dose","type":"nominal","sort":["0.1","1","10"]},"xOffset":{"field":"trt","type":"nominal","scale":{"type":"band","domain":["–","+"],"paddingInner":0.1,"paddingOuter":0.05}},"y":{"field":"mean","type":"quantitative"},"y2":{"field":"hi"}}},
    {"data":{"name":"bars"},"transform":[{"filter":"datum.p=='ige'"},{"calculate":"datum.mean+datum.sd","as":"hi"}],"mark":{"type":"tick","orient":"horizontal","size":8,"thickness":1.2,"color":"#111"},"encoding":{"x":{"field":"dose","type":"nominal","sort":["0.1","1","10"]},"xOffset":{"field":"trt","type":"nominal","scale":{"type":"band","domain":["–","+"],"paddingInner":0.1,"paddingOuter":0.05}},"y":{"field":"hi","type":"quantitative"}}},
    {"data":{"name":"pts"},"transform":[{"lookup":"id","from":{"data":{"name":"bars"},"key":"id","fields":["p","dose","trt","mean","sd","mark","star"]}},{"filter":"datum.p=='ige'"},{"window":[{"op":"row_number","as":"rep"}],"groupby":["id"]},{"calculate":"(datum.trt=='+'?5:0)+datum.rep","as":"k"}],"mark":{"type":"circle","color":"#111","size":22,"opacity":1},"encoding":{"x":{"field":"dose","type":"nominal","sort":["0.1","1","10"]},"xOffset":{"field":"k","type":"ordinal","scale":{"type":"band","paddingOuter":1,"paddingInner":0}},"y":{"field":"v","type":"quantitative"}}},
    {"data":{"name":"pts"},"transform":[{"lookup":"id","from":{"data":{"name":"bars"},"key":"id","fields":["p","dose","trt","mean","sd","mark","star"]}},{"filter":"datum.p=='ige'"},{"aggregate":[{"op":"max","field":"v","as":"pmax"}],"groupby":["dose","trt","mean","sd","mark","star"]},{"calculate":"max(datum.pmax, datum.mean + datum.sd)","as":"top"},{"filter":"datum.mark != ''"}],"mark":{"type":"text","fontSize":12,"baseline":"middle","dy":-10,"color":"#111"},"encoding":{"x":{"field":"dose","type":"nominal","sort":["0.1","1","10"]},"xOffset":{"field":"trt","type":"nominal","scale":{"type":"band","domain":["–","+"],"paddingInner":0.1,"paddingOuter":0.05}},"y":{"field":"top","type":"quantitative"},"text":{"field":"mark"}}},
    {"data":{"name":"pts"},"transform":[{"lookup":"id","from":{"data":{"name":"bars"},"key":"id","fields":["p","dose","trt","mean","sd","mark","star"]}},{"filter":"datum.p=='ige'"},{"aggregate":[{"op":"max","field":"v","as":"pmax"}],"groupby":["dose","trt","mean","sd","mark","star"]},{"calculate":"max(datum.pmax, datum.mean + datum.sd)","as":"top"},{"calculate":"datum.mark != '' ? 1 : 0","as":"hm"},{"joinaggregate":[{"op":"max","field":"top","as":"gtop"},{"op":"max","field":"hm","as":"ghm"}],"groupby":["dose"]},{"filter":"datum.star && datum.trt == '+'"}],"mark":{"type":"point","filled":false,"color":"#111","strokeWidth":1.3,"size":400,"opacity":1},"encoding":{"x":{"field":"dose","type":"nominal","sort":["0.1","1","10"]},"y":{"field":"gtop","type":"quantitative"},"shape":{"condition":{"test":"datum.ghm == 1","value":"M -1 -2.2 L -1 -2.7 L 1 -2.7 L 1 -2.2"},"value":"M -1 -0.8 L -1 -1.3 L 1 -1.3 L 1 -0.8"}}},
    {"data":{"name":"pts"},"transform":[{"lookup":"id","from":{"data":{"name":"bars"},"key":"id","fields":["p","dose","trt","mean","sd","mark","star"]}},{"filter":"datum.p=='ige'"},{"aggregate":[{"op":"max","field":"v","as":"pmax"}],"groupby":["dose","trt","mean","sd","mark","star"]},{"calculate":"max(datum.pmax, datum.mean + datum.sd)","as":"top"},{"calculate":"datum.mark != '' ? 1 : 0","as":"hm"},{"joinaggregate":[{"op":"max","field":"top","as":"gtop"},{"op":"max","field":"hm","as":"ghm"}],"groupby":["dose"]},{"filter":"datum.star && datum.trt == '+' && datum.ghm == 0"}],"mark":{"type":"text","text":"*","fontSize":17,"baseline":"alphabetic","dy":-12,"color":"#111"},"encoding":{"x":{"field":"dose","type":"nominal","sort":["0.1","1","10"]},"y":{"field":"gtop","type":"quantitative"}}},
    {"data":{"values":[{}]},"mark":{"type":"point","shape":"M -0.75 -2.5 L 0.75 -2.5 L 0.75 2.5 L -0.75 2.5 Z","filled":true,"color":"white","size":64,"opacity":1},"encoding":{"x":{"datum":"0.1","type":"nominal","bandPosition":0},"y":{"datum":1861,"type":"quantitative"}}},
    {"data":{"values":[{}]},"mark":{"type":"point","shape":"M -1 -1.75 L 1 -3.25 M -1 3.25 L 1 1.75","filled":false,"color":"#111","strokeWidth":1.1,"size":64,"opacity":1},"encoding":{"x":{"datum":"0.1","type":"nominal","bandPosition":0},"y":{"datum":1861,"type":"quantitative"}}}
   ]},
   {"data":{"name":"bars"},"transform":[{"filter":"datum.p=='ige'"}],"layer":[
    {"mark":{"type":"text","fontSize":12,"baseline":"middle","color":"#222"},"encoding":{"x":{"field":"dose","type":"nominal","sort":["0.1","1","10"]},"xOffset":{"field":"trt","type":"nominal","scale":{"type":"band","domain":["–","+"],"paddingInner":0.1,"paddingOuter":0.05}},"y":{"datum":"Indomethacin","type":"nominal","scale":{"type":"band","domain":["Indomethacin","Papain e.c., mg/mL"],"range":[188,224],"paddingInner":0,"paddingOuter":0},"axis":{"orient":"left","title":"c","titleAngle":0,"titleFontWeight":"bold","titleFontSize":15,"titleAlign":"right","titleBaseline":"middle","titleY":215,"titlePadding":6,"domain":false,"ticks":false,"labelPadding":11,"labelFontSize":12}},"text":{"field":"trt"}}},
    {"transform":[{"filter":"datum.trt=='+'"}],"mark":{"type":"tick","orient":"horizontal","size":38,"thickness":1,"color":"#111"},"encoding":{"x":{"field":"dose","type":"nominal","sort":["0.1","1","10"]},"y":{"datum":"Papain e.c., mg/mL","type":"nominal","bandPosition":0}}},
    {"transform":[{"filter":"datum.trt=='+'"}],"mark":{"type":"text","fontSize":12.5,"baseline":"middle","color":"#222"},"encoding":{"x":{"field":"dose","type":"nominal","sort":["0.1","1","10"]},"y":{"datum":"Papain e.c., mg/mL","type":"nominal"},"text":{"field":"dose"}}}
   ]}
  ]},
 {"width":125,"height":184,"resolve":{"scale":{"y":"independent","xOffset":"independent"},"axis":{"y":"independent"}},
  "layer":[
   {"resolve":{"scale":{"xOffset":"independent"}},"layer":[
    {"data":{"name":"bars"},"transform":[{"filter":"datum.p=='pige'"}],"mark":{"type":"bar","stroke":"#111","strokeWidth":1.3},"encoding":{"x":{"field":"dose","type":"nominal","sort":["0.1","1","10"],"scale":{"paddingInner":0,"paddingOuter":0},"axis":{"title":null,"labels":false,"tickSize":5,"bandPosition":1,"tickExtra":true}},"xOffset":{"field":"trt","type":"nominal","scale":{"type":"band","domain":["–","+"],"paddingInner":0.1,"paddingOuter":0.05}},"y":{"field":"mean","type":"quantitative","scale":{"domain":[0,1.08,1.25,1.56],"range":[184,40,15.7,0],"nice":false,"zero":false},"axis":{"title":"Papain-specific IgE, OD 450 nm","values":[0,0.2,0.4,0.6,0.8,1,1.25,1.5],"tickCount":30,"labelOverlap":false,"labelExpr":"datum.value >= 1.2 ? format(datum.value, '.2f') : format(datum.value, '.1f')"}},"color":{"field":"trt","type":"nominal","scale":{"domain":["–","+"],"range":["#A4B5DD","#CF5429"]},"legend":null}}},
    {"data":{"name":"bars"},"transform":[{"filter":"datum.p=='pige'"},{"calculate":"datum.mean+datum.sd","as":"hi"}],"mark":{"type":"rule","color":"#111","strokeWidth":1.2},"encoding":{"x":{"field":"dose","type":"nominal","sort":["0.1","1","10"]},"xOffset":{"field":"trt","type":"nominal","scale":{"type":"band","domain":["–","+"],"paddingInner":0.1,"paddingOuter":0.05}},"y":{"field":"mean","type":"quantitative"},"y2":{"field":"hi"}}},
    {"data":{"name":"bars"},"transform":[{"filter":"datum.p=='pige'"},{"calculate":"datum.mean+datum.sd","as":"hi"}],"mark":{"type":"tick","orient":"horizontal","size":8,"thickness":1.2,"color":"#111"},"encoding":{"x":{"field":"dose","type":"nominal","sort":["0.1","1","10"]},"xOffset":{"field":"trt","type":"nominal","scale":{"type":"band","domain":["–","+"],"paddingInner":0.1,"paddingOuter":0.05}},"y":{"field":"hi","type":"quantitative"}}},
    {"data":{"name":"pts"},"transform":[{"lookup":"id","from":{"data":{"name":"bars"},"key":"id","fields":["p","dose","trt","mean","sd","mark","star"]}},{"filter":"datum.p=='pige'"},{"window":[{"op":"row_number","as":"rep"}],"groupby":["id"]},{"calculate":"(datum.trt=='+'?5:0)+datum.rep","as":"k"}],"mark":{"type":"circle","color":"#111","size":22,"opacity":1},"encoding":{"x":{"field":"dose","type":"nominal","sort":["0.1","1","10"]},"xOffset":{"field":"k","type":"ordinal","scale":{"type":"band","paddingOuter":1,"paddingInner":0}},"y":{"field":"v","type":"quantitative"}}},
    {"data":{"name":"pts"},"transform":[{"lookup":"id","from":{"data":{"name":"bars"},"key":"id","fields":["p","dose","trt","mean","sd","mark","star"]}},{"filter":"datum.p=='pige'"},{"aggregate":[{"op":"max","field":"v","as":"pmax"}],"groupby":["dose","trt","mean","sd","mark","star"]},{"calculate":"max(datum.pmax, datum.mean + datum.sd)","as":"top"},{"filter":"datum.mark != ''"}],"mark":{"type":"text","fontSize":12,"baseline":"middle","dy":-10,"color":"#111"},"encoding":{"x":{"field":"dose","type":"nominal","sort":["0.1","1","10"]},"xOffset":{"field":"trt","type":"nominal","scale":{"type":"band","domain":["–","+"],"paddingInner":0.1,"paddingOuter":0.05}},"y":{"field":"top","type":"quantitative"},"text":{"field":"mark"}}},
    {"data":{"name":"pts"},"transform":[{"lookup":"id","from":{"data":{"name":"bars"},"key":"id","fields":["p","dose","trt","mean","sd","mark","star"]}},{"filter":"datum.p=='pige'"},{"aggregate":[{"op":"max","field":"v","as":"pmax"}],"groupby":["dose","trt","mean","sd","mark","star"]},{"calculate":"max(datum.pmax, datum.mean + datum.sd)","as":"top"},{"calculate":"datum.mark != '' ? 1 : 0","as":"hm"},{"joinaggregate":[{"op":"max","field":"top","as":"gtop"},{"op":"max","field":"hm","as":"ghm"}],"groupby":["dose"]},{"filter":"datum.star && datum.trt == '+'"}],"mark":{"type":"point","filled":false,"color":"#111","strokeWidth":1.3,"size":400,"opacity":1},"encoding":{"x":{"field":"dose","type":"nominal","sort":["0.1","1","10"]},"y":{"field":"gtop","type":"quantitative"},"shape":{"condition":{"test":"datum.ghm == 1","value":"M -1 -2.2 L -1 -2.7 L 1 -2.7 L 1 -2.2"},"value":"M -1 -0.8 L -1 -1.3 L 1 -1.3 L 1 -0.8"}}},
    {"data":{"name":"pts"},"transform":[{"lookup":"id","from":{"data":{"name":"bars"},"key":"id","fields":["p","dose","trt","mean","sd","mark","star"]}},{"filter":"datum.p=='pige'"},{"aggregate":[{"op":"max","field":"v","as":"pmax"}],"groupby":["dose","trt","mean","sd","mark","star"]},{"calculate":"max(datum.pmax, datum.mean + datum.sd)","as":"top"},{"calculate":"datum.mark != '' ? 1 : 0","as":"hm"},{"joinaggregate":[{"op":"max","field":"top","as":"gtop"},{"op":"max","field":"hm","as":"ghm"}],"groupby":["dose"]},{"filter":"datum.star && datum.trt == '+' && datum.ghm == 1"}],"mark":{"type":"text","text":"*","fontSize":17,"baseline":"alphabetic","dy":-26,"color":"#111"},"encoding":{"x":{"field":"dose","type":"nominal","sort":["0.1","1","10"]},"y":{"field":"gtop","type":"quantitative"}}},
    {"data":{"name":"pts"},"transform":[{"lookup":"id","from":{"data":{"name":"bars"},"key":"id","fields":["p","dose","trt","mean","sd","mark","star"]}},{"filter":"datum.p=='pige'"},{"aggregate":[{"op":"max","field":"v","as":"pmax"}],"groupby":["dose","trt","mean","sd","mark","star"]},{"calculate":"max(datum.pmax, datum.mean + datum.sd)","as":"top"},{"calculate":"datum.mark != '' ? 1 : 0","as":"hm"},{"joinaggregate":[{"op":"max","field":"top","as":"gtop"},{"op":"max","field":"hm","as":"ghm"}],"groupby":["dose"]},{"filter":"datum.star && datum.trt == '+' && datum.ghm == 0"}],"mark":{"type":"text","text":"*","fontSize":17,"baseline":"alphabetic","dy":-12,"color":"#111"},"encoding":{"x":{"field":"dose","type":"nominal","sort":["0.1","1","10"]},"y":{"field":"gtop","type":"quantitative"}}},
    {"data":{"values":[{}]},"mark":{"type":"point","shape":"M -0.75 -2.5 L 0.75 -2.5 L 0.75 2.5 L -0.75 2.5 Z","filled":true,"color":"white","size":64,"opacity":1},"encoding":{"x":{"datum":"0.1","type":"nominal","bandPosition":0},"y":{"datum":1.146,"type":"quantitative"}}},
    {"data":{"values":[{}]},"mark":{"type":"point","shape":"M -1 -1.75 L 1 -3.25 M -1 3.25 L 1 1.75","filled":false,"color":"#111","strokeWidth":1.1,"size":64,"opacity":1},"encoding":{"x":{"datum":"0.1","type":"nominal","bandPosition":0},"y":{"datum":1.146,"type":"quantitative"}}}
   ]},
   {"data":{"name":"bars"},"transform":[{"filter":"datum.p=='pige'"}],"layer":[
    {"mark":{"type":"text","fontSize":12,"baseline":"middle","color":"#222"},"encoding":{"x":{"field":"dose","type":"nominal","sort":["0.1","1","10"]},"xOffset":{"field":"trt","type":"nominal","scale":{"type":"band","domain":["–","+"],"paddingInner":0.1,"paddingOuter":0.05}},"y":{"datum":"Indomethacin","type":"nominal","scale":{"type":"band","domain":["Indomethacin","Papain e.c., mg/mL"],"range":[188,224],"paddingInner":0,"paddingOuter":0},"axis":null},"text":{"field":"trt"}}},
    {"transform":[{"filter":"datum.trt=='+'"}],"mark":{"type":"tick","orient":"horizontal","size":38,"thickness":1,"color":"#111"},"encoding":{"x":{"field":"dose","type":"nominal","sort":["0.1","1","10"]},"y":{"datum":"Papain e.c., mg/mL","type":"nominal","bandPosition":0}}},
    {"transform":[{"filter":"datum.trt=='+'"}],"mark":{"type":"text","fontSize":12.5,"baseline":"middle","color":"#222"},"encoding":{"x":{"field":"dose","type":"nominal","sort":["0.1","1","10"]},"y":{"datum":"Papain e.c., mg/mL","type":"nominal"},"text":{"field":"dose"}}}
   ]}
  ]},
 {"width":125,"height":184,"resolve":{"scale":{"y":"independent","xOffset":"independent"},"axis":{"y":"independent"}},
  "layer":[
   {"resolve":{"scale":{"xOffset":"independent"}},"layer":[
    {"data":{"name":"bars"},"transform":[{"filter":"datum.p=='igg1'"}],"mark":{"type":"bar","stroke":"#111","strokeWidth":1.3},"encoding":{"x":{"field":"dose","type":"nominal","sort":["0.1","1","10"],"scale":{"paddingInner":0,"paddingOuter":0},"axis":{"title":null,"labels":false,"tickSize":5,"bandPosition":1,"tickExtra":true}},"xOffset":{"field":"trt","type":"nominal","scale":{"type":"band","domain":["–","+"],"paddingInner":0.1,"paddingOuter":0.05}},"y":{"field":"mean","type":"quantitative","scale":{"domain":[0,1.082],"nice":false,"zero":false},"axis":{"title":"Papain-specific IgG1, OD 450 nm","values":[0,0.2,0.4,0.6,0.8,1],"tickCount":30,"labelOverlap":false,"labelExpr":"format(datum.value, '.1f')"}},"color":{"field":"trt","type":"nominal","scale":{"domain":["–","+"],"range":["#A4B5DD","#CF5429"]},"legend":null}}},
    {"data":{"name":"bars"},"transform":[{"filter":"datum.p=='igg1'"},{"calculate":"datum.mean+datum.sd","as":"hi"}],"mark":{"type":"rule","color":"#111","strokeWidth":1.2},"encoding":{"x":{"field":"dose","type":"nominal","sort":["0.1","1","10"]},"xOffset":{"field":"trt","type":"nominal","scale":{"type":"band","domain":["–","+"],"paddingInner":0.1,"paddingOuter":0.05}},"y":{"field":"mean","type":"quantitative"},"y2":{"field":"hi"}}},
    {"data":{"name":"bars"},"transform":[{"filter":"datum.p=='igg1'"},{"calculate":"datum.mean+datum.sd","as":"hi"}],"mark":{"type":"tick","orient":"horizontal","size":8,"thickness":1.2,"color":"#111"},"encoding":{"x":{"field":"dose","type":"nominal","sort":["0.1","1","10"]},"xOffset":{"field":"trt","type":"nominal","scale":{"type":"band","domain":["–","+"],"paddingInner":0.1,"paddingOuter":0.05}},"y":{"field":"hi","type":"quantitative"}}},
    {"data":{"name":"pts"},"transform":[{"lookup":"id","from":{"data":{"name":"bars"},"key":"id","fields":["p","dose","trt","mean","sd","mark","star"]}},{"filter":"datum.p=='igg1'"},{"window":[{"op":"row_number","as":"rep"}],"groupby":["id"]},{"calculate":"(datum.trt=='+'?5:0)+datum.rep","as":"k"}],"mark":{"type":"circle","color":"#111","size":22,"opacity":1},"encoding":{"x":{"field":"dose","type":"nominal","sort":["0.1","1","10"]},"xOffset":{"field":"k","type":"ordinal","scale":{"type":"band","paddingOuter":1,"paddingInner":0}},"y":{"field":"v","type":"quantitative"}}},
    {"data":{"name":"pts"},"transform":[{"lookup":"id","from":{"data":{"name":"bars"},"key":"id","fields":["p","dose","trt","mean","sd","mark","star"]}},{"filter":"datum.p=='igg1'"},{"aggregate":[{"op":"max","field":"v","as":"pmax"}],"groupby":["dose","trt","mean","sd","mark","star"]},{"calculate":"max(datum.pmax, datum.mean + datum.sd)","as":"top"},{"filter":"datum.mark != ''"}],"mark":{"type":"text","fontSize":12,"baseline":"middle","dy":-10,"color":"#111"},"encoding":{"x":{"field":"dose","type":"nominal","sort":["0.1","1","10"]},"xOffset":{"field":"trt","type":"nominal","scale":{"type":"band","domain":["–","+"],"paddingInner":0.1,"paddingOuter":0.05}},"y":{"field":"top","type":"quantitative"},"text":{"field":"mark"}}},
    {"data":{"name":"pts"},"transform":[{"lookup":"id","from":{"data":{"name":"bars"},"key":"id","fields":["p","dose","trt","mean","sd","mark","star"]}},{"filter":"datum.p=='igg1'"},{"aggregate":[{"op":"max","field":"v","as":"pmax"}],"groupby":["dose","trt","mean","sd","mark","star"]},{"calculate":"max(datum.pmax, datum.mean + datum.sd)","as":"top"},{"calculate":"datum.mark != '' ? 1 : 0","as":"hm"},{"joinaggregate":[{"op":"max","field":"top","as":"gtop"},{"op":"max","field":"hm","as":"ghm"}],"groupby":["dose"]},{"filter":"datum.star && datum.trt == '+'"}],"mark":{"type":"point","filled":false,"color":"#111","strokeWidth":1.3,"size":400,"opacity":1},"encoding":{"x":{"field":"dose","type":"nominal","sort":["0.1","1","10"]},"y":{"field":"gtop","type":"quantitative"},"shape":{"condition":{"test":"datum.ghm == 1","value":"M -1 -2.2 L -1 -2.7 L 1 -2.7 L 1 -2.2"},"value":"M -1 -0.8 L -1 -1.3 L 1 -1.3 L 1 -0.8"}}},
    {"data":{"name":"pts"},"transform":[{"lookup":"id","from":{"data":{"name":"bars"},"key":"id","fields":["p","dose","trt","mean","sd","mark","star"]}},{"filter":"datum.p=='igg1'"},{"aggregate":[{"op":"max","field":"v","as":"pmax"}],"groupby":["dose","trt","mean","sd","mark","star"]},{"calculate":"max(datum.pmax, datum.mean + datum.sd)","as":"top"},{"calculate":"datum.mark != '' ? 1 : 0","as":"hm"},{"joinaggregate":[{"op":"max","field":"top","as":"gtop"},{"op":"max","field":"hm","as":"ghm"}],"groupby":["dose"]},{"filter":"datum.star && datum.trt == '+' && datum.ghm == 0"}],"mark":{"type":"text","text":"*","fontSize":17,"baseline":"alphabetic","dy":-12,"color":"#111"},"encoding":{"x":{"field":"dose","type":"nominal","sort":["0.1","1","10"]},"y":{"field":"gtop","type":"quantitative"}}}
   ]},
   {"data":{"name":"bars"},"transform":[{"filter":"datum.p=='igg1'"}],"layer":[
    {"mark":{"type":"text","fontSize":12,"baseline":"middle","color":"#222"},"encoding":{"x":{"field":"dose","type":"nominal","sort":["0.1","1","10"]},"xOffset":{"field":"trt","type":"nominal","scale":{"type":"band","domain":["–","+"],"paddingInner":0.1,"paddingOuter":0.05}},"y":{"datum":"Indomethacin","type":"nominal","scale":{"type":"band","domain":["Indomethacin","Papain e.c., mg/mL"],"range":[188,224],"paddingInner":0,"paddingOuter":0},"axis":null},"text":{"field":"trt"}}},
    {"transform":[{"filter":"datum.trt=='+'"}],"mark":{"type":"tick","orient":"horizontal","size":38,"thickness":1,"color":"#111"},"encoding":{"x":{"field":"dose","type":"nominal","sort":["0.1","1","10"]},"y":{"datum":"Papain e.c., mg/mL","type":"nominal","bandPosition":0}}},
    {"transform":[{"filter":"datum.trt=='+'"}],"mark":{"type":"text","fontSize":12.5,"baseline":"middle","color":"#222"},"encoding":{"x":{"field":"dose","type":"nominal","sort":["0.1","1","10"]},"y":{"datum":"Papain e.c., mg/mL","type":"nominal"},"text":{"field":"dose"}}}
   ]}
  ]}
 ],"spacing":81.5,"bounds":"flush"}
]
}
